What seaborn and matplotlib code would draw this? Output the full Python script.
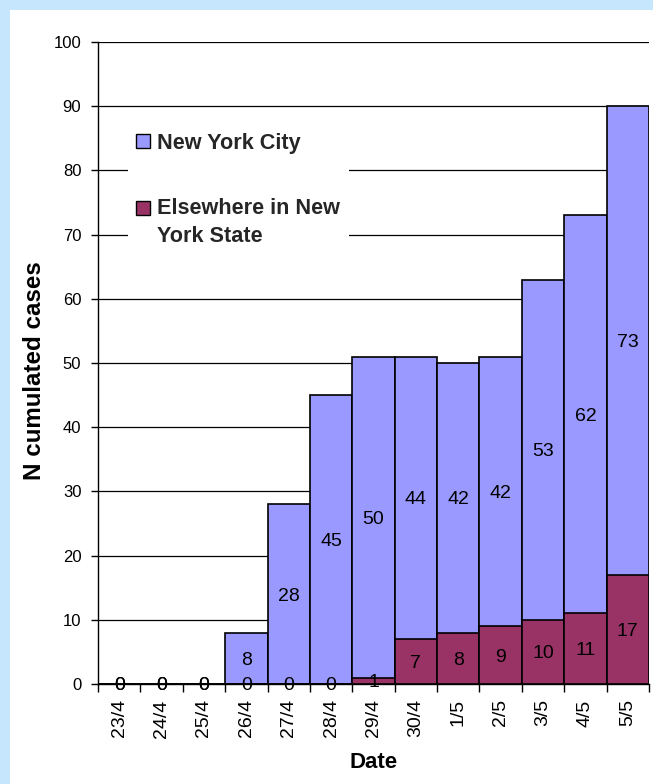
import matplotlib
matplotlib.use("Agg")
import matplotlib.pyplot as plt
import seaborn as sns
import pandas as pd
from matplotlib.patches import Patch, Rectangle
from matplotlib.legend_handler import HandlerPatch

# Daily cumulated confirmed cases, New York State
dates = ["23/4", "24/4", "25/4", "26/4", "27/4", "28/4", "29/4",
         "30/4", "1/5", "2/5", "3/5", "4/5", "5/5"]
nyc_cases = [0, 0, 0, 8, 28, 45, 50, 44, 42, 42, 53, 62, 73]
elsewhere_cases = [0, 0, 0, 0, 0, 0, 1, 7, 8, 9, 10, 11, 17]
series_labels = ["New York City", "Elsewhere in New\nYork State"]
y_ticks = list(range(0, 101, 10))

nyc_color = "#9999FF"
elsewhere_color = "#993366"
frame_color = "#C6E6FE"

sns.set_theme(style="white")
plt.rcParams["font.family"] = ["Liberation Sans", "DejaVu Sans"]

df = pd.DataFrame({
    "date": dates,
    "nyc": nyc_cases,
    "elsewhere": elsewhere_cases,
})
df["total"] = df["nyc"] + df["elsewhere"]

W, H = 653, 784
fig = plt.figure(figsize=(W / 100, H / 100), dpi=100, facecolor="white")
# light blue frame along the left and top edges
fig.patches.append(Rectangle((0, 0), 10 / W, 1, transform=fig.transFigure,
                             facecolor=frame_color, edgecolor="none", zorder=0))
fig.patches.append(Rectangle((0, 1 - 10 / H), 1, 10 / H, transform=fig.transFigure,
                             facecolor=frame_color, edgecolor="none", zorder=0))

ax = fig.add_axes([98 / W, 1 - 684 / H, 551 / W, 642 / H])

# stacked bars: full height in NYC colour, lower segment overdrawn
sns.barplot(data=df, x="date", y="total", color=nyc_color, saturation=1,
            width=1.0, edgecolor="black", linewidth=1.2, errorbar=None,
            ax=ax, zorder=2)
sns.barplot(data=df, x="date", y="elsewhere", color=elsewhere_color, saturation=1,
            width=1.0, edgecolor="black", linewidth=1.2, errorbar=None,
            ax=ax, zorder=3)

# segment value labels
for i, (n, e) in enumerate(zip(nyc_cases, elsewhere_cases)):
    ax.text(i, e + n / 2, str(n), ha="center", va="center_baseline",
            fontsize=14, color="black", zorder=5)
    ax.text(i, e / 2, str(e), ha="center", va="center_baseline",
            fontsize=14, color="black", zorder=5)

ax.set_xlim(-0.5, len(dates) - 0.5)
ax.set_ylim(0, 100)
ax.set_yticks(y_ticks)
ax.set_yticklabels([str(t) for t in y_ticks])
ax.set_xticks(range(len(dates)))
ax.set_xticklabels(dates, rotation=90)
ax.set_xticks([i - 0.5 for i in range(len(dates) + 1)], minor=True)

ax.tick_params(axis="x", which="major", length=0, pad=11, labelsize=14,
               colors="black")
ax.tick_params(axis="x", which="minor", length=6, width=1, direction="out",
               color="black", bottom=True)
ax.tick_params(axis="y", which="major", length=5, width=1, direction="out",
               pad=7, labelsize=12, colors="black", left=True)

ax.yaxis.grid(True, color="black", linewidth=0.9)
ax.xaxis.grid(False)
ax.set_axisbelow(True)

for side in ["top", "right"]:
    ax.spines[side].set_visible(False)
for side in ["left", "bottom"]:
    ax.spines[side].set_color("black")
    ax.spines[side].set_linewidth(1)

ax.set_ylabel("N cumulated cases", fontsize=17.4, fontweight="bold", color="black")
ax.set_xlabel("Date", fontsize=16, fontweight="bold", color="black")
ax.yaxis.set_label_coords(-0.094, 0.4875)
ax.xaxis.set_label_coords(0.5, -0.106)


def first_line_square(legend, orig_handle, xdescent, ydescent, width, height, fontsize):
    # key square aligned with the first line of a two-line entry
    return Rectangle((-xdescent, -ydescent + 0.7 * fontsize), width, height)


handles = [Patch(facecolor=nyc_color, edgecolor="black", linewidth=1),
           Patch(facecolor=elsewhere_color, edgecolor="black", linewidth=1)]
leg = ax.legend(handles, series_labels, loc="upper left",
                bbox_to_anchor=(0.054, 0.872), frameon=True, fancybox=False,
                facecolor="white", edgecolor="none", framealpha=1,
                prop={"weight": "bold", "size": 15.6},
                handlelength=0.62, handleheight=0.65, handletextpad=0.35,
                labelspacing=2.05, borderpad=0.4, borderaxespad=0,
                handler_map={handles[1]: HandlerPatch(patch_func=first_line_square)})
for t in leg.get_texts():
    t.set_linespacing(1.42)
leg.set_zorder(4)

fig.savefig("out.png", dpi=100, facecolor="white")
